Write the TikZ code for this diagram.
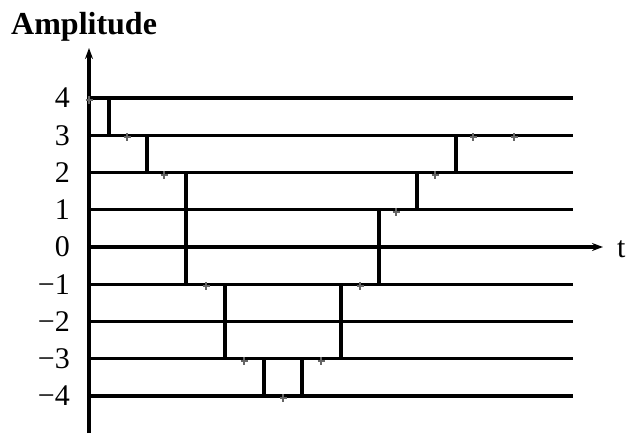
\documentclass[tikz,border=0pt]{standalone}
\usepackage{fontspec}
\setmainfont{Liberation Serif}
\usetikzlibrary{arrows.meta}
\begin{document}
\begin{tikzpicture}[x=1pt,y=-1pt,
  lvl/.style={line width=3.2pt},
  stepline/.style={line width=3.2pt},
  axisline/.style={line width=3.2pt,-{Stealth[length=11pt,width=8pt]}},
  sample/.style={black!60,line width=2pt},
  ticklab/.style={anchor=east,font=\fontsize{30}{30}\selectfont,inner sep=0pt},
  txt/.style={font=\fontsize{30}{30}\selectfont,inner sep=0pt}]
\useasboundingbox (0,0) rectangle (627,434);
% axes
\coordinate (yb) at (89,433);
\coordinate (yt) at (89,48);
\draw[axisline] (yb) -- (yt);
\coordinate (x0) at (89,247);
\coordinate (xe) at (603,247);
\draw[axisline] (x0) -- (xe);
\node[txt,anchor=west] (tl) at (617,249) {t};
\node[txt,anchor=base west,font=\fontsize{32}{32}\selectfont\bfseries] (amp) at (11,34) {Amplitude};
% levels
\foreach \v in {4,3,2,1,-1,-2,-3,-4}{
  \draw[lvl] (89,{247-37.25*\v}) -- (573,{247-37.25*\v});
}
\foreach \v/\lab in {4/4,3/3,2/2,1/1,0/0,-1/{\textminus1},-2/{\textminus2},-3/{\textminus3},-4/{\textminus4}}{
  \node[ticklab] (l\v) at (70,{247-37.25*\v}) {\lab};
}
% staircase verticals
\foreach \x/\a/\b in {109/4/3, 147/3/2, 186/2/-1, 225/-1/-3, 264/-3/-4, 302/-4/-3, 341/-3/-1, 379/-1/1, 417/1/2, 456/2/3}{
  \draw[stepline] (\x,{247-37.25*\a}) -- (\x,{247-37.25*\b});
}
% sample marks
\foreach \x/\v in {89/4,127/3,164/2,206/-1,244/-3,283/-4,321/-3,360/-1,396/1,435/2,473/3,514/3}{
  \draw[sample] (\x-3.5,{249-37.25*\v}) -- (\x+3.5,{249-37.25*\v});
  \draw[sample] (\x,{249-37.25*\v-4}) -- (\x,{249-37.25*\v+4});
}
\end{tikzpicture}
\end{document}
